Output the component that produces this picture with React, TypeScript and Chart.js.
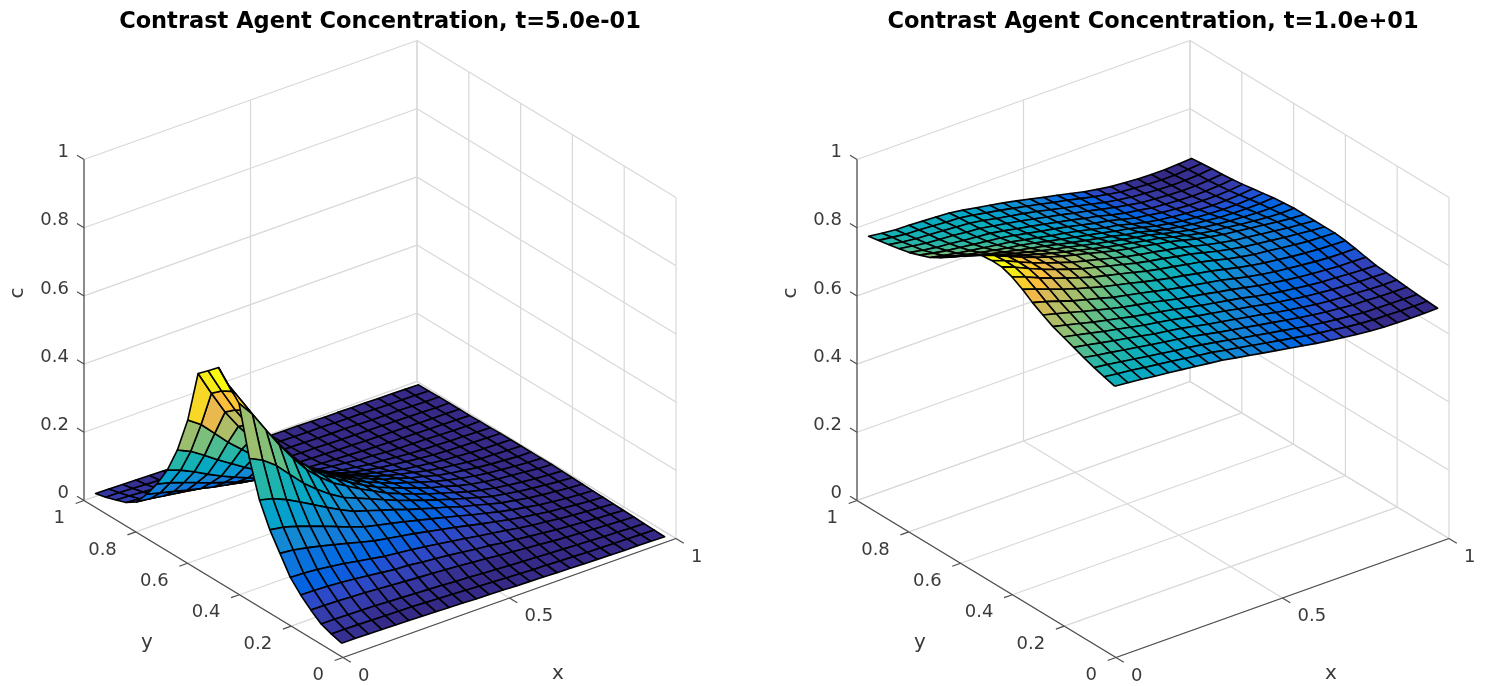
import React, { useEffect, useRef } from "react";
import { Chart, registerables } from "chart.js";

Chart.register(...registerables);

const xNodes = [0.03,0.07,0.111,0.151,0.192,0.232,0.272,0.313,0.353,0.394,0.434,0.474,0.515,0.555,0.596,0.636,0.677,0.717,0.757,0.798,0.838,0.879,0.919,0.959,1.0];
const yNodes = [0.044,0.084,0.123,0.163,0.202,0.242,0.282,0.321,0.361,0.4,0.44,0.48,0.519,0.559,0.598,0.638,0.678,0.717,0.757,0.796,0.836,0.876,0.915,0.955,0.994];

// rows = y index, columns = x index
const cEarly: number[][] = [
[.011,.011,.01,.009,.008,.007,.006,.005,.003,.002,0,-.001,-.002,-.004,-.005,-.006,-.008,-.009,-.01,-.011,-.012,-.013,-.013,-.014,-.015],
[.02,.02,.019,.018,.017,.016,.015,.013,.011,.009,.007,.005,.003,.001,-.001,-.003,-.004,-.006,-.007,-.009,-.01,-.011,-.012,-.013,-.014],
[.031,.031,.03,.029,.028,.026,.024,.022,.02,.018,.015,.013,.01,.008,.005,.003,.001,-.001,-.003,-.005,-.007,-.009,-.01,-.012,-.013],
[.054,.053,.052,.05,.048,.045,.042,.039,.036,.034,.031,.028,.024,.021,.016,.013,.009,.006,.002,-.001,-.003,-.006,-.008,-.01,-.012],
[.08,.079,.077,.074,.07,.066,.061,.056,.054,.049,.045,.041,.036,.031,.027,.021,.017,.012,.008,.003,0,-.003,-.006,-.008,-.011],
[.113,.111,.108,.103,.097,.09,.083,.076,.072,.067,.062,.056,.05,.044,.037,.031,.025,.018,.012,.008,.003,-.001,-.004,-.007,-.01],
[.165,.161,.153,.144,.134,.124,.113,.103,.096,.089,.082,.074,.066,.058,.049,.04,.032,.024,.017,.011,.005,.001,-.003,-.006,-.009],
[.216,.21,.198,.184,.17,.155,.14,.126,.117,.108,.099,.089,.079,.069,.059,.048,.039,.029,.021,.014,.007,.002,-.002,-.005,-.008],
[.285,.275,.258,.237,.215,.193,.172,.153,.141,.128,.116,.102,.09,.078,.067,.054,.044,.033,.023,.016,.009,.004,0,-.004,-.007],
[.389,.37,.34,.30,.26,.228,.2,.176,.16,.143,.127,.111,.097,.083,.07,.058,.046,.035,.024,.017,.01,.005,.001,-.003,-.006],
[.532,.487,.426,.368,.315,.268,.231,.2,.177,.154,.134,.114,.098,.083,.069,.057,.045,.033,.024,.016,.01,.005,.001,-.002,-.005],
[.567,.505,.44,.382,.328,.28,.24,.205,.18,.155,.133,.113,.097,.082,.068,.055,.044,.032,.023,.016,.01,.006,.002,-.002,-.004],
[.601,.517,.446,.385,.33,.28,.24,.205,.177,.152,.13,.11,.094,.078,.066,.053,.041,.031,.022,.015,.009,.005,.001,-.002,-.004],
[.573,.50,.43,.372,.32,.272,.232,.197,.17,.144,.122,.103,.087,.071,.06,.047,.037,.026,.019,.013,.007,.003,0,-.003,-.004],
[.547,.475,.406,.35,.30,.254,.215,.18,.155,.13,.11,.092,.077,.062,.05,.04,.031,.022,.015,.01,.005,.001,-.001,-.003,-.004],
[.392,.365,.325,.285,.25,.215,.183,.153,.131,.11,.093,.077,.063,.051,.04,.031,.022,.016,.011,.006,.003,0,-.002,-.003,-.004],
[.286,.268,.242,.215,.19,.165,.142,.12,.103,.087,.072,.059,.049,.038,.029,.022,.017,.012,.007,.003,.001,-.001,-.002,-.003,-.004],
[.209,.195,.176,.155,.135,.118,.102,.087,.075,.063,.053,.043,.034,.026,.02,.014,.011,.007,.003,.001,0,-.002,-.003,-.004,-.005],
[.15,.14,.126,.112,.097,.084,.072,.061,.053,.044,.037,.03,.024,.018,.014,.009,.007,.003,.001,0,-.001,-.003,-.004,-.005,-.005],
[.102,.092,.082,.072,.062,.053,.045,.037,.03,.025,.02,.016,.012,.009,.007,.005,.003,.001,0,-.001,-.002,-.003,-.004,-.005,-.006],
[.061,.056,.05,.044,.038,.032,.027,.023,.019,.015,.012,.009,.007,.005,.004,.002,.001,0,-.001,-.002,-.003,-.004,-.005,-.005,-.006],
[.041,.038,.034,.03,.026,.022,.018,.015,.012,.01,.008,.006,.004,.003,.002,.001,0,-.001,-.002,-.002,-.003,-.004,-.005,-.006,-.006],
[.03,.028,.025,.022,.019,.016,.013,.011,.009,.007,.005,.004,.003,.002,.001,0,-.001,-.001,-.002,-.003,-.004,-.004,-.005,-.006,-.006],
[.02,.019,.017,.015,.013,.011,.009,.008,.006,.005,.004,.003,.002,.001,0,-.001,-.001,-.002,-.003,-.003,-.004,-.005,-.005,-.006,-.007],
[.013,.012,.011,.01,.009,.008,.007,.006,.005,.004,.003,.002,.001,0,-.001,-.001,-.002,-.003,-.003,-.004,-.004,-.005,-.005,-.006,-.007],
];

const cLate: number[][] = [
[.765,.761,.757,.752,.748,.743,.738,.733,.728,.721,.714,.707,.700,.693,.686,.679,.673,.668,.663,.659,.656,.655,.654,.654,.655],
[.774,.769,.765,.759,.754,.749,.743,.738,.733,.725,.718,.711,.704,.697,.690,.683,.677,.672,.666,.662,.659,.658,.657,.657,.657],
[.783,.778,.772,.766,.760,.754,.748,.743,.737,.730,.723,.715,.708,.701,.694,.687,.680,.675,.670,.666,.662,.661,.660,.659,.659],
[.794,.787,.781,.774,.768,.761,.755,.749,.743,.735,.727,.720,.713,.706,.699,.692,.685,.679,.674,.670,.666,.665,.663,.662,.662],
[.806,.799,.791,.783,.776,.769,.761,.755,.749,.741,.733,.726,.719,.712,.705,.697,.690,.684,.678,.674,.671,.669,.666,.665,.665],
[.818,.810,.801,.792,.784,.776,.768,.762,.755,.747,.739,.732,.725,.717,.710,.702,.695,.689,.683,.679,.675,.673,.670,.669,.668],
[.830,.821,.811,.801,.792,.784,.775,.768,.761,.753,.745,.737,.730,.723,.716,.707,.700,.693,.688,.683,.679,.677,.674,.672,.671],
[.846,.836,.825,.814,.804,.794,.785,.777,.770,.761,.752,.745,.738,.730,.723,.715,.706,.700,.694,.689,.685,.682,.679,.678,.677],
[.864,.853,.840,.827,.816,.806,.795,.787,.779,.770,.761,.753,.746,.739,.732,.723,.714,.707,.701,.696,.692,.688,.685,.684,.684],
[.885,.872,.857,.843,.830,.819,.808,.799,.790,.780,.771,.763,.756,.748,.741,.732,.723,.715,.709,.704,.699,.695,.692,.690,.689],
[.903,.889,.872,.857,.843,.830,.818,.808,.799,.789,.779,.771,.764,.756,.749,.740,.730,.722,.715,.711,.706,.701,.697,.695,.693],
[.914,.899,.881,.865,.850,.837,.824,.814,.804,.794,.784,.776,.769,.761,.754,.744,.734,.726,.719,.714,.709,.704,.700,.696,.693],
[.915,.900,.882,.866,.851,.838,.825,.815,.805,.795,.785,.777,.770,.762,.755,.745,.735,.727,.720,.715,.710,.705,.700,.696,.693],
[.912,.897,.880,.864,.849,.836,.824,.814,.804,.794,.784,.776,.769,.761,.754,.744,.734,.726,.719,.714,.709,.704,.699,.695,.693],
[.894,.881,.865,.851,.838,.826,.815,.805,.796,.786,.776,.768,.761,.753,.746,.736,.726,.718,.711,.707,.702,.698,.694,.692,.693],
[.874,.861,.847,.835,.824,.814,.804,.795,.786,.777,.768,.760,.752,.744,.737,.727,.717,.709,.703,.698,.694,.691,.689,.688,.690],
[.851,.841,.829,.819,.810,.801,.793,.785,.776,.767,.759,.751,.743,.734,.727,.717,.707,.700,.694,.690,.686,.684,.683,.684,.687],
[.832,.823,.813,.805,.797,.790,.784,.776,.767,.759,.751,.743,.735,.726,.719,.709,.699,.692,.686,.682,.679,.677,.677,.679,.682],
[.814,.806,.798,.792,.786,.780,.775,.767,.759,.751,.744,.736,.727,.718,.711,.701,.691,.684,.679,.675,.672,.670,.671,.673,.677],
[.803,.795,.788,.783,.778,.773,.769,.762,.754,.746,.739,.731,.722,.713,.706,.696,.686,.680,.674,.670,.667,.666,.666,.668,.672],
[.792,.785,.779,.776,.771,.767,.764,.757,.749,.742,.734,.726,.718,.709,.701,.691,.682,.676,.669,.666,.663,.661,.662,.664,.668],
[.785,.779,.773,.770,.767,.763,.760,.753,.746,.739,.731,.723,.715,.706,.698,.689,.680,.673,.666,.663,.660,.658,.659,.661,.665],
[.779,.773,.768,.766,.763,.760,.757,.751,.743,.736,.729,.721,.712,.703,.695,.686,.677,.670,.664,.661,.658,.656,.657,.659,.663],
[.773,.768,.763,.761,.759,.756,.754,.748,.741,.734,.726,.718,.710,.701,.693,.684,.675,.668,.661,.658,.655,.654,.654,.657,.660],
[.767,.762,.758,.757,.755,.753,.751,.745,.738,.731,.724,.716,.707,.698,.690,.681,.672,.665,.659,.656,.653,.652,.652,.654,.657],
];

const xTicks = [0, 0.5, 1];
const xTickLabels = ["0", "0.5", "1"];
const yTicks = [0, 0.2, 0.4, 0.6, 0.8, 1];
const yTickLabels = ["0", "0.2", "0.4", "0.6", "0.8", "1"];
const zTicks = [0, 0.2, 0.4, 0.6, 0.8, 1];
const zTickLabels = ["0", "0.2", "0.4", "0.6", "0.8", "1"];
const titles = ["Contrast Agent Concentration, t=5.0e-01", "Contrast Agent Concentration, t=1.0e+01"];

const parula: number[][] = [
[.2081,.1663,.5292],[.2116,.1898,.5777],[.2123,.2138,.6270],[.2081,.2386,.6771],[.1959,.2645,.7279],[.1707,.2919,.7792],[.1253,.3242,.8303],[.0591,.3598,.8683],
[.0117,.3875,.8820],[.0060,.4086,.8828],[.0165,.4266,.8786],[.0329,.4430,.8720],[.0498,.4586,.8641],[.0629,.4737,.8554],[.0723,.4887,.8467],[.0779,.5040,.8384],
[.0793,.5200,.8312],[.0749,.5375,.8263],[.0641,.5570,.8240],[.0488,.5772,.8228],[.0343,.5966,.8199],[.0265,.6137,.8135],[.0239,.6287,.8038],[.0231,.6418,.7913],
[.0228,.6535,.7768],[.0267,.6642,.7607],[.0384,.6743,.7436],[.0590,.6838,.7254],[.0843,.6928,.7062],[.1133,.7015,.6859],[.1453,.7098,.6646],[.1801,.7177,.6424],
[.2178,.7250,.6193],[.2586,.7317,.5954],[.3022,.7376,.5712],[.3482,.7424,.5473],[.3953,.7459,.5244],[.4420,.7481,.5033],[.4871,.7491,.4840],[.5300,.7491,.4661],
[.5709,.7485,.4494],[.6099,.7473,.4337],[.6473,.7456,.4188],[.6834,.7435,.4044],[.7184,.7411,.3905],[.7525,.7384,.3768],[.7858,.7356,.3633],[.8185,.7327,.3498],
[.8507,.7299,.3360],[.8824,.7274,.3217],[.9139,.7258,.3063],[.9450,.7261,.2886],[.9739,.7314,.2666],[.9938,.7455,.2403],[.9990,.7653,.2164],[.9955,.7861,.1967],
[.9880,.8066,.1794],[.9789,.8271,.1633],[.9697,.8481,.1475],[.9626,.8705,.1309],[.9589,.8949,.1132],[.9598,.9218,.0948],[.9661,.9514,.0755],[.9763,.9831,.0538],
];

const CANVAS_W = 760;
const CANVAS_H = 686;
const TITLE_H = 38;
const ORIGIN = [343, 657.5];
const EX = [333, -119];
const EY = [-259, -157];
const EZ = -341;
const GRID = "#d8d8d8";
const AXIS = "#4d4d4d";
const TEXT = "#3a3a3a";
const FONT = "DejaVu Sans";

const project = (x: number, y: number, z: number) => ({
  x: ORIGIN[0] + EX[0] * x + EY[0] * y,
  y: ORIGIN[1] + EX[1] * x + EY[1] * y + EZ * z,
});

const colorOf = (v: number, lo: number, hi: number) => {
  const t = Math.max(0, Math.min(1, (v - lo) / (hi - lo)));
  const c = parula[Math.min(parula.length - 1, Math.floor(t * parula.length))];
  return `rgb(${Math.round(c[0] * 255)},${Math.round(c[1] * 255)},${Math.round(c[2] * 255)})`;
};

const lineSet = (a: number[], b: number[], color: string, width: number) => ({
  data: [project(a[0], a[1], a[2]), project(b[0], b[1], b[2])],
  showLine: true,
  borderColor: color,
  borderWidth: width,
  pointRadius: 0,
  fill: false,
  clip: false,
});

function buildDatasets(z: number[][]) {
  const all = z.flat();
  const lo = Math.max(0, Math.min(...all));
  const hi = Math.max(...all);
  const sets: any[] = [];
  // chart.js paints the first dataset last, so the nearest faces go first
  for (let i = 0; i < xNodes.length - 1; i++) {
    for (let j = 0; j < yNodes.length - 1; j++) {
      sets.push({
        data: [
          project(xNodes[i], yNodes[j], z[j][i]),
          project(xNodes[i + 1], yNodes[j], z[j][i + 1]),
          project(xNodes[i + 1], yNodes[j + 1], z[j + 1][i + 1]),
          project(xNodes[i], yNodes[j + 1], z[j + 1][i]),
          project(xNodes[i], yNodes[j], z[j][i]),
        ],
        showLine: true,
        fill: "shape",
        backgroundColor: colorOf(z[j][i], lo, hi),
        borderColor: "#000000",
        borderWidth: 1.6,
        borderJoinStyle: "round",
        pointRadius: 0,
        clip: false,
      });
    }
  }
  // axis rulers and tick marks
  sets.push(lineSet([0, 0, 0], [1, 0, 0], AXIS, 1.2));
  sets.push(lineSet([0, 0, 0], [0, 1, 0], AXIS, 1.2));
  sets.push(lineSet([0, 1, 0], [0, 1, 1], AXIS, 1.2));
  xTicks.forEach((t) => sets.push(lineSet([t, 0, 0], [t, -0.03, 0], AXIS, 1.2)));
  yTicks.forEach((t) => sets.push(lineSet([0, t, 0], [-0.025, t, 0], AXIS, 1.2)));
  zTicks.forEach((t) => sets.push(lineSet([0, 1, t], [0, 1.027, t], AXIS, 1.2)));
  // grid on floor and back walls
  xTicks.forEach((t) => {
    sets.push(lineSet([t, 0, 0], [t, 1, 0], GRID, 1.2));
    sets.push(lineSet([t, 1, 0], [t, 1, 1], GRID, 1.2));
  });
  yTicks.forEach((t) => {
    sets.push(lineSet([0, t, 0], [1, t, 0], GRID, 1.2));
    sets.push(lineSet([1, t, 0], [1, t, 1], GRID, 1.2));
  });
  zTicks.forEach((t) => {
    sets.push(lineSet([0, 1, t], [1, 1, t], GRID, 1.2));
    sets.push(lineSet([1, 1, t], [1, 0, t], GRID, 1.2));
  });
  return sets;
}

const axisText = {
  id: "axisText",
  afterDraw(chart: any) {
    const { ctx, scales } = chart;
    const at = (x: number, y: number, z: number) => {
      const p = project(x, y, z);
      return [scales.x.getPixelForValue(p.x), scales.y.getPixelForValue(p.y)];
    };
    ctx.save();
    ctx.fillStyle = TEXT;
    ctx.font = `18px "${FONT}"`;
    ctx.textBaseline = "middle";
    ctx.textAlign = "right";
    zTicks.forEach((t, k) => {
      const [px, py] = at(0, 1, t);
      ctx.fillText(zTickLabels[k], px - 15, py - 7);
    });
    yTicks.forEach((t, k) => {
      const [px, py] = at(0, t, 0);
      ctx.fillText(yTickLabels[k], px - 19, py + 18);
    });
    ctx.textAlign = "left";
    xTicks.forEach((t, k) => {
      const [px, py] = at(t, 0, 0);
      ctx.fillText(xTickLabels[k], px + 15, py + 18.5);
    });
    ctx.font = `20px "${FONT}"`;
    ctx.textAlign = "center";
    ctx.fillText("x", 558, 674);
    ctx.fillText("y", 147, 643);
    ctx.translate(18, 293);
    ctx.rotate(-Math.PI / 2);
    ctx.fillText("c", 0, 0);
    ctx.restore();
  },
};

function Panel({ z, title, left }: { z: number[][]; title: string; left: number }) {
  const ref = useRef<HTMLCanvasElement>(null);
  useEffect(() => {
    const chart = new Chart(ref.current as HTMLCanvasElement, {
      type: "scatter",
      data: { datasets: buildDatasets(z) as any },
      plugins: [axisText],
      options: {
        animation: false,
        responsive: false,
        events: [],
        layout: { padding: 0 },
        scales: {
          x: { type: "linear", min: 0, max: CANVAS_W, display: false },
          y: { type: "linear", min: TITLE_H, max: CANVAS_H, reverse: true, display: false },
        },
        plugins: {
          legend: { display: false },
          tooltip: { enabled: false },
          title: {
            display: true,
            text: title,
            color: "#000000",
            font: { family: FONT, size: 22.5, weight: "bold", lineHeight: 1 },
            padding: { top: 10.5, bottom: 5 },
          },
        },
      } as any,
    });
    return () => chart.destroy();
  }, [z, title]);
  return (
    <canvas
      ref={ref}
      width={CANVAS_W}
      height={CANVAS_H}
      style={{ position: "absolute", left, top: 0, width: CANVAS_W, height: CANVAS_H, filter: "blur(0.7px)" }}
    />
  );
}

export default function App() {
  useEffect(() => {
    document.body.style.margin = "0";
  }, []);
  return (
    <div style={{ position: "relative", width: 1486, height: 686, overflow: "hidden", background: "#fff" }}>
      <Panel z={cEarly} title={titles[0]} left={0} />
      <Panel z={cLate} title={titles[1]} left={773} />
    </div>
  );
}
